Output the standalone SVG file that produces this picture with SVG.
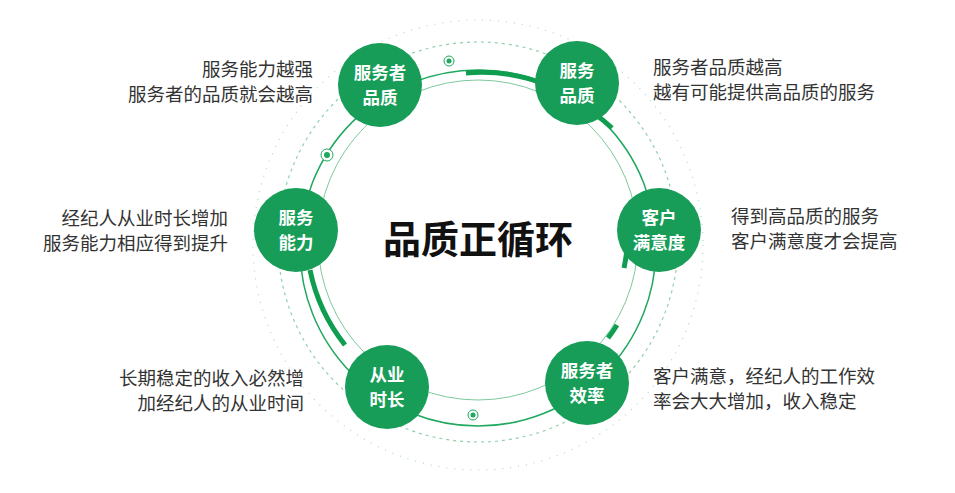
<svg xmlns="http://www.w3.org/2000/svg" width="955" height="493" viewBox="0 0 955 493">
<style>
.n{fill:#179d58}
.nt{font-family:"Noto Sans CJK SC",sans-serif;font-weight:bold;font-size:17.5px;fill:#fff;text-anchor:middle}
.d{font-family:"Noto Sans CJK SC",sans-serif;font-size:18.5px;fill:#333}
.r{text-anchor:end}
.thin{fill:none;stroke:#1fa85e;stroke-width:1.5}
.lite{fill:none;stroke:#7cc99c;stroke-width:1}
.thick{fill:none;stroke:#0f9e4f;stroke-width:5}
</style>
<rect width="955" height="493" fill="#fff"/>
<g id="connectors">
<circle cx="478" cy="245" r="225" fill="none" stroke="#a9dcbd" stroke-width="1.2" stroke-dasharray="1 7"/>
<circle cx="478" cy="242" r="200" fill="none" stroke="#8fd0aa" stroke-width="1.2" stroke-dasharray="3 4"/>
<circle cx="478" cy="248" r="178" class="thin"/>
<circle cx="478" cy="240" r="160" class="lite"/>
<path class="thick" d="M466,73 A178,178 0 0 1 550,86"/>
<path class="thick" d="M592,112 A178,178 0 0 1 612,128"/>
<path class="thick" d="M310,270 A178,178 0 0 0 345,345"/>
<path class="thick" d="M627,248 A160,160 0 0 1 624,268"/>
<path class="thick" d="M617,325 A160,160 0 0 1 608,338" stroke-width="3"/>
<circle cx="449" cy="61" r="5" fill="#fff" stroke="#1fa85e"/><circle cx="449" cy="61" r="2.5" fill="#1fa85e"/>
<circle cx="327" cy="155" r="6" fill="#fff" stroke="#1fa85e"/><circle cx="327" cy="155" r="3" fill="#1fa85e"/>
<circle cx="473" cy="415" r="5" fill="#fff" stroke="#1fa85e"/><circle cx="473" cy="415" r="2.5" fill="#1fa85e"/>
</g>
<text x="478" y="253" text-anchor="middle" font-family="Noto Sans CJK SC,sans-serif" font-weight="bold" font-size="38" fill="#111">品质正循环</text>
<g id="n1"><circle class="n" cx="380" cy="85" r="42"/><text class="nt" x="380" y="79">服务者</text><text class="nt" x="380" y="104">品质</text></g>
<g id="n2"><circle class="n" cx="577" cy="83" r="42"/><text class="nt" x="577" y="77">服务</text><text class="nt" x="577" y="102">品质</text></g>
<g id="n3"><circle class="n" cx="659" cy="230" r="42"/><text class="nt" x="659" y="224">客户</text><text class="nt" x="659" y="249">满意度</text></g>
<g id="n4"><circle class="n" cx="296" cy="230" r="42"/><text class="nt" x="296" y="224">服务</text><text class="nt" x="296" y="249">能力</text></g>
<g id="n5"><circle class="n" cx="387" cy="387" r="42"/><text class="nt" x="387" y="381">从业</text><text class="nt" x="387" y="406">时长</text></g>
<g id="n6"><circle class="n" cx="587" cy="383" r="42"/><text class="nt" x="587" y="377">服务者</text><text class="nt" x="587" y="402">效率</text></g>
<g id="labels">
<text class="d r" x="313" y="76">服务能力越强</text><text class="d r" x="313" y="101">服务者的品质就会越高</text>
<text class="d" x="653" y="74">服务者品质越高</text><text class="d" x="653" y="99">越有可能提供高品质的服务</text>
<text class="d" x="731" y="223">得到高品质的服务</text><text class="d" x="731" y="248">客户满意度才会提高</text>
<text class="d r" x="228" y="225">经纪人从业时长增加</text><text class="d r" x="228" y="250">服务能力相应得到提升</text>
<text class="d r" x="304" y="385">长期稳定的收入必然增</text><text class="d r" x="304" y="410">加经纪人的从业时间</text>
<text class="d" x="653" y="383">客户满意，经纪人的工作效</text><text class="d" x="653" y="408">率会大大增加，收入稳定</text>
</g>
</svg>
